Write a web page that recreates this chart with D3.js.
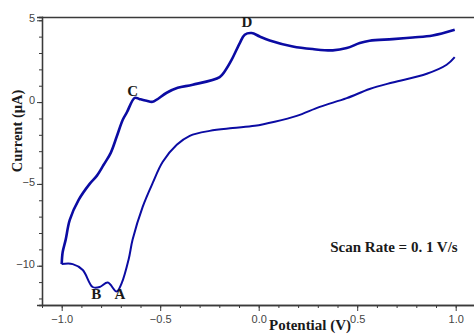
<!DOCTYPE html>
<html>
<head>
<meta charset="utf-8">
<script src="https://cdn.jsdelivr.net/npm/d3@7"></script>
<style>
  html, body { margin: 0; padding: 0; background: #fff; overflow: hidden; }
  svg { display: block; }
</style>
</head>
<body>
<svg id="chart" width="474" height="334"></svg>
<script>
// Cyclic voltammogram: anodic (upper) and cathodic (lower) branches
const potentialUpper = [0.995, 0.883, 0.782, 0.680, 0.563, 0.513, 0.447, 0.376, 0.274, 0.173, 0.056, 0.005, -0.036, -0.071, -0.096, -0.137, -0.173, -0.198, -0.335, -0.411, -0.467, -0.538, -0.569, -0.604, -0.629, -0.670, -0.690, -0.721, -0.751, -0.787, -0.822, -0.858, -0.914, -0.959, -0.980, -0.995, -1.0];
const currentUpper   = [4.42, 4.07, 3.95, 3.85, 3.75, 3.61, 3.30, 3.16, 3.24, 3.40, 3.77, 4.01, 4.22, 4.12, 3.61, 2.59, 1.87, 1.53, 1.06, 0.87, 0.57, 0.02, 0.08, 0.18, 0.26, -0.65, -1.08, -2.12, -3.10, -3.83, -4.51, -5.00, -5.98, -7.20, -8.42, -9.16, -9.90];

const potentialLower = [-1.0, -0.944, -0.893, -0.843, -0.807, -0.766, -0.721, -0.695, -0.660, -0.640, -0.589, -0.538, -0.487, -0.416, -0.350, -0.249, -0.132, -0.020, 0.081, 0.193, 0.310, 0.447, 0.563, 0.680, 0.853, 0.954, 0.995];
const currentLower   = [-9.90, -9.90, -10.26, -11.30, -11.30, -11.03, -11.58, -11.05, -9.60, -8.40, -6.40, -4.94, -3.65, -2.61, -2.06, -1.76, -1.59, -1.45, -1.20, -0.84, -0.29, 0.24, 0.80, 1.20, 1.73, 2.28, 2.75];

// Peak annotations
const peakNames     = ["A", "B", "C", "D"];
const peakPotential = [-0.705, -0.825, -0.64, -0.06];
const peakCurrent   = [-12.05, -12.05, 0.4, 4.6];

const xTickValues = [-1.0, -0.5, 0.0, 0.5, 1.0];
const yTickValues = [5, 0, -5, -10];

const svg = d3.select("#chart");
const margin = { left: 42, top: 17, bottom: 305 };

const x = d3.scaleLinear().domain([-1.1, 1.1]).range([42, 475.4]);
const y = d3.scaleLinear().domain([-12.4, 5.2]).range([305, 17]);

const axisColor = "#3a3a3a";
const labelColor = "#444";
const serif = "Liberation Serif, Times New Roman, serif";

// Top frame line
svg.append("line")
  .attr("x1", 42).attr("x2", 474)
  .attr("y1", margin.top + 0.5).attr("y2", margin.top + 0.5)
  .attr("stroke", axisColor).attr("stroke-width", 1.3);

// Minor ticks
const xMinor = d3.range(-11, 12).map(d => d / 10);
const yMinor = d3.range(-12, 6);

const xAxisMinor = d3.axisBottom(x).tickValues(xMinor).tickSize(3).tickFormat("");
const yAxisMinor = d3.axisLeft(y).tickValues(yMinor).tickSize(3).tickFormat("");

const gxm = svg.append("g").attr("transform", `translate(0,${margin.bottom})`).call(xAxisMinor);
const gym = svg.append("g").attr("transform", `translate(${margin.left},0)`).call(yAxisMinor);

// Major ticks with labels
const xAxis = d3.axisBottom(x).tickValues(xTickValues).tickSize(6).tickPadding(4).tickFormat(d3.format(".1f"));
const yAxis = d3.axisLeft(y).tickValues(yTickValues).tickSize(5).tickPadding(2).tickFormat(d3.format("d"));

const gx = svg.append("g").attr("transform", `translate(0,${margin.bottom})`).call(xAxis);
const gy = svg.append("g").attr("transform", `translate(${margin.left},0)`).call(yAxis);

[gxm, gym, gx, gy].forEach(g => {
  g.select(".domain").attr("stroke", axisColor).attr("stroke-width", 1.3);
  g.selectAll(".tick line").attr("stroke", axisColor).attr("stroke-width", 1);
  g.selectAll("text")
    .attr("fill", labelColor)
    .attr("font-family", "Liberation Sans, Arial, sans-serif")
    .attr("font-size", 11);
});
gy.selectAll("text").attr("dy", "0.12em");
gxm.select(".domain").attr("d", `M42,0.5H474`);
gx.select(".domain").attr("d", `M42,0.5H474`);

// Voltammogram branches
const line = d3.line()
  .x(d => x(d[0]))
  .y(d => y(d[1]))
  .curve(d3.curveCatmullRom.alpha(0.5));

const upper = potentialUpper.map((p, i) => [p, currentUpper[i]]);
const lower = potentialLower.map((p, i) => [p, currentLower[i]]);

svg.append("path")
  .datum(lower)
  .attr("d", line)
  .attr("fill", "none")
  .attr("stroke", "#0b0ba3")
  .attr("stroke-width", 2)
  .attr("stroke-linejoin", "round");

svg.append("path")
  .datum(upper)
  .attr("d", line)
  .attr("fill", "none")
  .attr("stroke", "#0b0ba3")
  .attr("stroke-width", 2.6)
  .attr("stroke-linejoin", "round");

// Peak letters
svg.selectAll("text.peak")
  .data(peakNames)
  .enter().append("text")
  .attr("class", "peak")
  .attr("x", (d, i) => x(peakPotential[i]))
  .attr("y", (d, i) => y(peakCurrent[i]))
  .attr("text-anchor", "middle")
  .attr("font-family", serif)
  .attr("font-weight", "bold")
  .attr("font-size", 15)
  .attr("fill", "#1a1a1a")
  .text(d => d);

// Scan rate note
svg.append("text")
  .attr("x", 394)
  .attr("y", 252)
  .attr("text-anchor", "middle")
  .attr("font-family", serif)
  .attr("font-weight", "bold")
  .attr("font-size", 15)
  .attr("fill", "#1a1a1a")
  .text("Scan Rate = 0. 1 V/s");

// Axis titles
svg.append("text")
  .attr("x", 310)
  .attr("y", 330)
  .attr("text-anchor", "middle")
  .attr("font-family", serif)
  .attr("font-weight", "bold")
  .attr("font-size", 15)
  .attr("fill", "#1a1a1a")
  .text("Potential (V)");

svg.append("text")
  .attr("transform", "translate(22,131) rotate(-90)")
  .attr("text-anchor", "middle")
  .attr("font-family", serif)
  .attr("font-weight", "bold")
  .attr("font-size", 14.5)
  .attr("fill", "#1a1a1a")
  .text("Current (\u03BCA)");
</script>
</body>
</html>
